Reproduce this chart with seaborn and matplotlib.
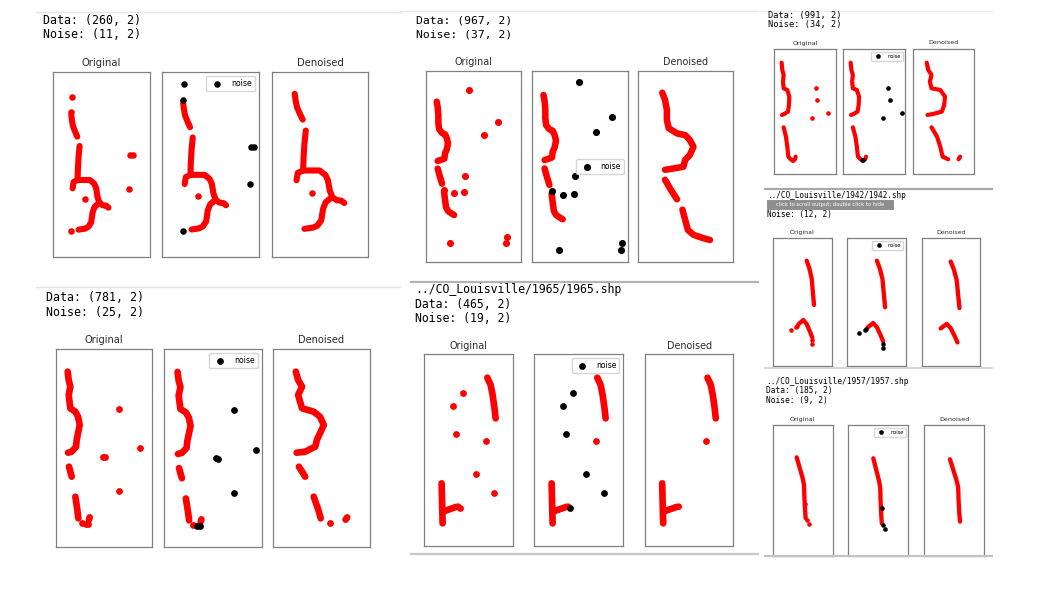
import matplotlib
matplotlib.use("Agg")
import matplotlib.pyplot as plt
import seaborn as sns
from matplotlib.lines import Line2D
from matplotlib.patches import Rectangle

# ---- Data (260, 2) ----
p260_lines = [
    [(55, 128), (57, 145), (60, 162), (67, 180), (73, 194)],
    [(80, 222), (77, 255), (75, 290), (74, 324), (90, 324), (111, 324), (124, 335), (130, 349),
     (134, 375), (140, 392), (150, 400), (160, 401), (167, 407)],
    [(138, 393), (125, 405), (119, 422), (115, 451), (106, 465), (96, 470), (77, 473)],
    [(74, 324), (62, 330), (59, 349)],
]
p260_red = [(95, 382)]
p260_noise = [(57, 75), (54, 120), (232, 248), (240, 249), (230, 350), (55, 478)]

# ---- Data (967, 2) ----
p967_lines = [
    [(33, 92), (36, 109), (38, 132), (38, 155), (40, 174), (49, 186), (58, 190), (63, 201),
     (67, 217), (63, 236), (58, 247), (56, 263), (45, 267), (36, 270)],
    [(36, 293), (42, 315), (49, 338)],
    [(55, 362), (58, 386), (61, 409), (67, 420), (78, 428), (85, 432)],
]
p967_red = []
p967_noise = [(130, 57), (218, 152), (176, 192), (118, 314), (85, 366), (115, 362), (74, 516),
              (245, 498), (242, 516), (55, 356)]

# ---- Data (991, 2) ----
p991_lines = [
    [(22, 40), (24, 62), (28, 77), (26, 97), (28, 117), (39, 122), (45, 142), (44, 167),
     (41, 187), (30, 194), (23, 197)],
    [(28, 234), (35, 262), (39, 292), (42, 322), (49, 330)],
    [(62, 330), (64, 322)],
]
p991_red = []
p991_noise = [(125, 117), (129, 152), (162, 190), (112, 205), (53, 331), (57, 331)]

# ---- 1942 ----
p1942_lines = [
    [(100, 67), (108, 90), (115, 120), (118, 155), (122, 200)],
    [(75, 258), (90, 245), (100, 257), (110, 280), (117, 298)],
]
p1942_red = []
p1942_noise = [(52, 275), (68, 265), (72, 262), (117, 305), (117, 317)]

# ---- 1957 ----
p1957_lines = [
    [(72, 97), (80, 125), (90, 160), (94, 180), (95, 215), (97, 255), (99, 280)],
]
p1957_red = []
p1957_noise = [(98, 237), (103, 284), (108, 296)]

# ---- Data (781, 2) ----
p781_lines = [
    [(36, 68), (39, 93), (44, 113), (39, 138), (44, 178), (59, 188), (67, 203), (72, 228),
     (67, 253), (63, 273), (61, 293), (48, 308), (37, 311)],
    [(40, 353), (48, 383)],
    [(59, 443), (65, 483), (68, 508)],
    [(100, 512), (102, 505)],
]
p781_red = [(80, 521)]
p781_noise = [(191, 181), (253, 298), (143, 323), (148, 325), (191, 426), (90, 524), (97, 524)]

# ---- 1965 ----
p1965_lines = [
    [(189, 71), (199, 93), (205, 123), (210, 158), (214, 193)],
    [(52, 388), (53, 430), (54, 470), (55, 508)],
    [(55, 473), (75, 466), (95, 459), (102, 458)],
]
p1965_red = [(184, 261)]
p1965_noise = [(117, 118), (87, 156), (95, 240), (155, 361), (209, 416), (106, 461)]

W, H = 1044, 594


def fx(x):
    return x / W


def fy(y):
    return 1 - y / H


panels = [
    dict(lines=p260_lines, red=p260_red, noise=p260_noise,
         boxes=[(53, 72, 150, 257), (162, 72, 259, 257), (272, 72, 368, 257)],
         lims=[(0, 292, 555, 0), (-0.2, 252.9, 548, 43.5), (3.7, 220.5, 545, 72.4)],
         ty=62.7, tfs=7.2, ms=22, lw=4.4, loc='upper right', lfs=5.6),
    dict(lines=p967_lines, red=p967_red, noise=p967_noise,
         boxes=[(425.7, 71, 520.7, 262.3), (531.7, 71, 627.7, 262.3), (638.3, 71, 733.3, 262.3)],
         lims=[(0, 285, 574, 0), (1.1, 261, 549.7, 26.4), (6.8, 110.5, 483.5, 42)],
         ty=62.3, tfs=6.9, ms=26, lw=4.7, loc='center right', lfs=5.5),
    dict(lines=p991_lines, red=p991_red, noise=p991_noise,
         boxes=[(774.3, 49.3, 836, 174.3), (843.3, 49.3, 905, 174.3), (912.7, 49.3, 974.3, 174.3)],
         lims=[(0, 185, 375, 0), (1.8, 171, 375, 0), (4.4, 81.8, 375, 0)],
         ty=43, tfs=4.6, ms=11, lw=3.0, loc='upper right', lfs=3.6),
    dict(lines=p1942_lines, red=p1942_red, noise=p1942_noise,
         boxes=[(773.3, 238.3, 831.7, 365.7), (847.3, 238.3, 905.7, 365.7), (921.7, 238.3, 980, 365.7)],
         lims=[(0, 175, 382, 0), (20.9, 177.1, 367, 3.2), (27.5, 173.3, 364.4, 0.6)],
         ty=232.3, tfs=4.5, ms=11, lw=3.1, loc='upper right', lfs=3.6),
    dict(lines=p1957_lines, red=p1957_red, noise=p1957_noise,
         boxes=[(772.7, 425, 832.7, 556), (848.3, 425, 908.3, 556), (924.3, 425, 984.3, 556)],
         lims=[(0, 180, 393, 0), (-6.9, 182.5, 371, 3.7), (3.2, 164, 381, -3.9)],
         ty=419.3, tfs=4.6, ms=11, lw=3.1, loc='upper right', lfs=3.6),
    dict(lines=p781_lines, red=p781_red, noise=p781_noise,
         boxes=[(55.7, 349, 152.3, 546.7), (164, 349, 261.7, 546.7), (272.7, 349, 370, 546.7)],
         lims=[(0, 290, 593, 0), (-1.5, 268.8, 586, 0), (6.3, 131.3, 593, 0)],
         ty=340, tfs=7.1, ms=24, lw=4.8, loc='upper right', lfs=5.6),
    dict(lines=p1965_lines, red=p1965_red, noise=p1965_noise,
         boxes=[(424.3, 354, 513.3, 545.7), (534.3, 354, 623.3, 545.7), (645, 354, 733.3, 545.7)],
         lims=[(0, 267, 575, 0), (0, 267, 575, 0), (0, 267, 575, 0)],
         ty=345.7, tfs=6.9, ms=24, lw=4.8, loc='upper right', lfs=5.5),
]

texts = [
    (43.3, 20.7, "Data: (260, 2)", 8.4), (43.3, 34.3, "Noise: (11, 2)", 8.4),
    (416, 20.7, "Data: (967, 2)", 8.2), (416, 34.3, "Noise: (37, 2)", 8.2),
    (768.3, 15.7, "Data: (991, 2)", 6.2), (768.3, 25, "Noise: (34, 2)", 6.2),
    (767.3, 195, "../CO_Louisville/1942/1942.shp", 5.6), (767.3, 214, "Noise: (12, 2)", 5.6),
    (766, 381.7, "../CO_Louisville/1957/1957.shp", 5.7), (766, 391, "Data: (185, 2)", 5.7),
    (766, 400.7, "Noise: (9, 2)", 5.7),
    (45.7, 297.3, "Data: (781, 2)", 8.4), (45.7, 312.3, "Noise: (25, 2)", 8.4),
    (415, 290, "../CO_Louisville/1965/1965.shp", 8.3), (415, 304.3, "Data: (465, 2)", 8.3),
    (415, 318.3, "Noise: (19, 2)", 8.3),
]

# cell borders of the notebook screenshots: (x0, x1, y, color, width)
rules = [
    (36, 400, 12, '#e4e4e4', 1.0), (400, 758, 11, '#e4e4e4', 1.0), (760, 992, 11, '#eaeaea', 1.0),
    (765, 992, 189, '#a8a8a8', 1.6), (765, 992, 368, '#d0d0d0', 1.2), (765, 992, 556, '#c4c4c4', 1.6),
    (36, 400, 287, '#e4e4e4', 1.0), (411, 758, 282, '#b4b4b4', 1.6), (411, 758, 554, '#c8c8c8', 1.6),
]

fig = plt.figure(figsize=(10.44, 5.94), dpi=100)
fig.patch.set_facecolor('white')


def draw(box, lim, p, mode):
    x0, y0, x1, y1 = box
    ax = fig.add_axes([fx(x0), fy(y1), (x1 - x0) / W, (y1 - y0) / H])
    for ln in p['lines']:
        sns.lineplot(x=[q[0] for q in ln], y=[q[1] for q in ln], sort=False, estimator=None,
                     color='#ff0000', lw=p['lw'], solid_capstyle='round',
                     solid_joinstyle='round', ax=ax)
    if p['red']:
        sns.scatterplot(x=[q[0] for q in p['red']], y=[q[1] for q in p['red']],
                        color='#ff0000', s=p['ms'], linewidth=0, zorder=3, ax=ax)
    if mode == 'orig':
        sns.scatterplot(x=[q[0] for q in p['noise']], y=[q[1] for q in p['noise']],
                        color='#ff0000', s=p['ms'], linewidth=0, zorder=3, ax=ax)
    elif mode == 'mid':
        sns.scatterplot(x=[q[0] for q in p['noise']], y=[q[1] for q in p['noise']],
                        color='black', s=p['ms'], linewidth=0, zorder=4, label='noise', ax=ax)
        ax.legend(loc=p['loc'], fontsize=p['lfs'])
    ax.set_xlim(lim[0], lim[1])
    ax.set_ylim(lim[2], lim[3])
    ax.set_xticks([])
    ax.set_yticks([])
    ax.set_xlabel('')
    ax.set_ylabel('')
    for s in ax.spines.values():
        s.set_color('#808080')
        s.set_linewidth(0.9)
    return ax


for p in panels:
    for box, lim, mode in zip(p['boxes'], p['lims'], ['orig', 'mid', 'den']):
        draw(box, lim, p, mode)
    ob, db = p['boxes'][0], p['boxes'][2]
    fig.text(fx((ob[0] + ob[2]) / 2), fy(p['ty']), 'Original', fontsize=p['tfs'],
             ha='center', va='center', color='#2a2a2a')
    fig.text(fx((db[0] + db[2]) / 2), fy(p['ty']), 'Denoised', fontsize=p['tfs'],
             ha='center', va='center', color='#2a2a2a')

for x, y, s, fs in texts:
    fig.text(fx(x), fy(y), s, fontsize=fs, family='DejaVu Sans Mono', ha='left', va='center',
             color='black')

for x0, x1, y, c, w in rules:
    fig.add_artist(Line2D([fx(x0), fx(x1)], [fy(y), fy(y)], transform=fig.transFigure,
                          color=c, lw=w))

# jupyter tooltip covering the "Data" line of the 1942 cell
fig.add_artist(Rectangle((fx(767.3), fy(209.3)), (892.7 - 767.3) / W, 9.3 / H,
                         transform=fig.transFigure, facecolor='#8e8e8e', edgecolor='#7a7a7a',
                         lw=0.5, zorder=5))
fig.text(fx(830), fy(204.6), 'click to scroll output; double click to hide', fontsize=3.8,
         color='white', ha='center', va='center', zorder=6)

fig.savefig('out.png', dpi=100, facecolor='white')
